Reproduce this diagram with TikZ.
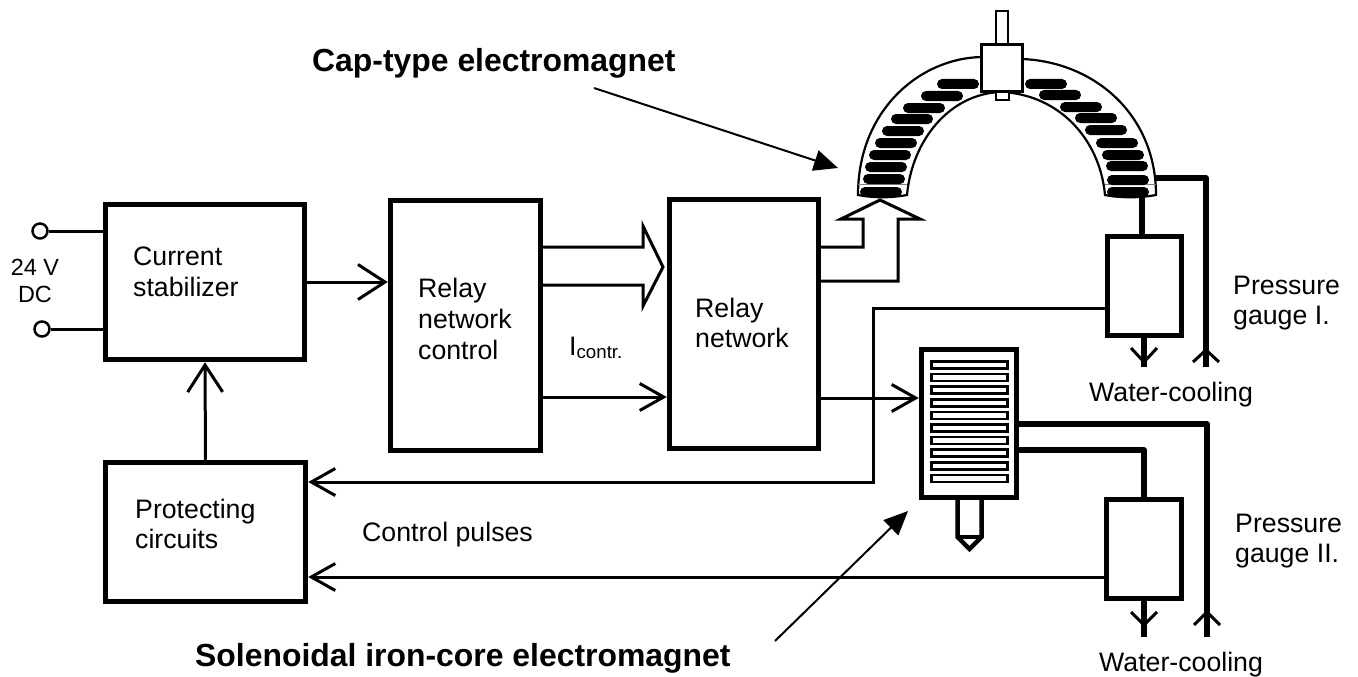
\documentclass[tikz,border=0pt]{standalone}
\usepackage{fontspec}
\setmainfont{Liberation Sans}
\usetikzlibrary{arrows.meta, shapes.geometric}
\tikzstyle{block} = [rectangle, draw=black, line width=5.5pt, fill=white, inner sep=0pt]
\tikzstyle{label} = [anchor=west, inner sep=0pt, align=left, font=\fontsize{26.7}{30.7}\selectfont]
\tikzstyle{title} = [anchor=west, inner sep=0pt, font=\fontsize{31.9}{38}\selectfont\bfseries]
\tikzstyle{wire} = [line width=3pt, line join=miter]
\tikzstyle{arrow} = [wire, -{Straight Barb[length=24pt, width=27pt, line width=3pt]}]
\tikzstyle{bigarrow} = [wire, -{Straight Barb[length=27pt, width=35pt, line width=3pt]}]
\tikzstyle{pointer} = [line width=2pt, -{Triangle[length=24pt, width=21pt]}]
\tikzstyle{pipe} = [line width=5.5pt, line join=round]
\tikzstyle{barb} = [line width=3pt, line join=miter]
\tikzstyle{coil} = [rectangle, rounded corners=5pt, fill=black, minimum width=42pt, minimum height=10pt, inner sep=0pt]
\tikzstyle{turn} = [rectangle, draw=black, line width=2.5pt, fill=white, minimum width=76pt, minimum height=7pt, inner sep=0pt]

\begin{document}
\begin{tikzpicture}[x=1pt, y=-1pt]
\useasboundingbox (0,0) rectangle (1358,677);

% blocks
\node(stab)[block, minimum width=199pt, minimum height=155pt] at (205,282){};
\node(ctrl)[block, minimum width=150pt, minimum height=250pt] at (465.5,325.5){};
\node(relay)[block, minimum width=149pt, minimum height=249pt] at (744,324){};
\node(prot)[block, minimum width=200pt, minimum height=139pt] at (205.5,532){};
\node(gaugeA)[block, minimum width=74pt, minimum height=99pt] at (1144.5,286){};
\node(gaugeB)[block, minimum width=75pt, minimum height=99pt] at (1144,549){};
\node(sol)[block, minimum width=95pt, minimum height=148pt] at (969,423.5){};

% block texts
\node(stabtxt)[label] at (133,272){Current\\stabilizer};
\node(ctrltxt)[label] at (418,319){Relay\\network\\control};
\node(relaytxt)[label] at (695,323){Relay\\network};
\node(prottxt)[label] at (135,524){Protecting\\circuits};
\node(conttxt)[label] at (569,348){I\textsubscript{contr.}};
\node(pulsetxt)[label] at (362,535){Control pulses};
\node(gaugeAtxt)[label] at (1233,303){Pressure\\gauge I.};
\node(gaugeBtxt)[label] at (1235,541){Pressure\\gauge II.};
\node(waterA)[label] at (1089,395){Water-cooling};
\node(waterB)[label] at (1099,665){Water-cooling};
\node(dctxt)[label, anchor=center, align=center, font=\fontsize{23.4}{27}\selectfont] at (35,281){24 V\\DC};
\node(captxt)[title] at (312,63){Cap-type electromagnet};
\node(soltxt)[title] at (195,658){Solenoidal iron-core electromagnet};

% supply terminals
\node(plus)[circle, draw=black, line width=2.5pt, minimum size=15pt, inner sep=0pt] at (40,231){};
\node(minus)[circle, draw=black, line width=2.5pt, minimum size=15pt, inner sep=0pt] at (42,329){};
\draw[wire](plus) -- (plus -| stab.west);
\draw[wire](minus) -- (minus -| stab.west);

% cap-type electromagnet
\draw[line width=2.2pt, fill=white] (858,195) .. controls (858,110) and (920,58) .. (982,57) -- (1022,59)
  .. controls (1095,62) and (1156,115) .. (1156,195) .. controls (1140,198) and (1120,198) .. (1105,195)
  .. controls (1100,140) and (1060,95) .. (1002,92) .. controls (950,93) and (912,140) .. (907,195)
  .. controls (890,198) and (875,198) .. (858,195) -- cycle;
\draw[line width=.8pt, gray] (858,184) -- (907,184) (1105,184) -- (1156,184);
\foreach \cx/\cy [count=\i] in {958/84, 942/96, 924/108, 912/119, 903/131, 896/143, 890/155, 886/167, 884/179, 881/192}
  \node(coilL\i)[coil] at (\cx,\cy){};
\foreach \cx/\cy [count=\i] in {1046/84, 1060/95, 1081/107, 1096/118, 1106/130, 1117/143, 1123/155, 1127/166, 1128/180, 1128/192}
  \node(coilR\i)[coil] at (\cx,\cy){};
\node(rod)[block, line width=2.2pt, minimum width=12pt, minimum height=34pt] at (1002,28){};
\node(stub)[block, line width=2pt, minimum width=13pt, minimum height=8pt] at (1002,96){};
\node(head)[block, line width=2.2pt, minimum width=41pt, minimum height=47pt] at (1002,68){};

% solenoid
\foreach \i in {0,...,9}
  \node(turn\i)[turn] at (969.5,{365+12.6*\i}){};
\draw[line width=4.5pt, line join=miter] (957.5,500) -- (957.5,537) -- (969.5,549) -- (981.5,537) -- (981.5,500);
\draw[line width=4pt] (957.5,537) -- (981.5,537);

% signal paths
\draw[bigarrow](stab.east) -- (ctrl.west |- stab.east);
\draw[bigarrow](prot.north) -- (stab.south);
\draw[arrow](ctrl.east |- 0,397) -- (relay.west |- 0,397);
\draw[arrow](relay.east |- 0,398) -- (sol.west |- 0,398);
\draw[wire, line cap=round](ctrl.east |- 0,247) -- (643,247) -- (643,226) -- (663,267) -- (643,306) -- (643,285) -- (ctrl.east |- 0,285);
\draw[wire, line cap=round](relay.east |- 0,247) -- (863,247) -- (863,219) -- (841,219) -- (880,200) -- (920,219) -- (898,219) -- (898,281) -- (relay.east |- 0,281);
\draw[arrow](gaugeA.west |- 0,308) -- (873,308) -- (873,482) -- (prot.east |- 0,482);
\draw[arrow](gaugeB.west |- 0,577) -- (prot.east |- 0,577);

% cooling pipes
\draw[pipe](1142,194) -- (1142,236);
\coordinate(outA) at (1144,367);
\coordinate(inA) at (1206,367);
\coordinate(outB) at (1144,637);
\coordinate(inB) at (1207,637);
\draw[pipe](gaugeA.south -| outA) -- (outA);
\draw[pipe](1155,178) -- (1206,178) -- (inA);
\draw[pipe](sol.east |- 0,424) -- (1207,424) -- (inB);
\draw[pipe](sol.east |- 0,450) -- (1144,450) -- (gaugeB.north);
\draw[pipe](gaugeB.south) -- (outB);
\draw[barb]([shift={(-13,-19)}]outA) -- ([shift={(0,-5)}]outA) -- ([shift={(13,-19)}]outA);
\draw[barb]([shift={(-13,-5)}]inA) -- ([shift={(0,-17)}]inA) -- ([shift={(13,-5)}]inA);
\draw[barb]([shift={(-13,-25)}]outB) -- ([shift={(0,-12)}]outB) -- ([shift={(13,-25)}]outB);
\draw[barb]([shift={(-13,-12)}]inB) -- ([shift={(0,-25)}]inB) -- ([shift={(13,-12)}]inB);

% pointers
\coordinate(capfoot) at (594,88);
\coordinate(solfoot) at (775,641);
\draw[pointer](capfoot) -- (838,168);
\draw[pointer](solfoot) -- (908,511);

\end{tikzpicture}
\end{document}
